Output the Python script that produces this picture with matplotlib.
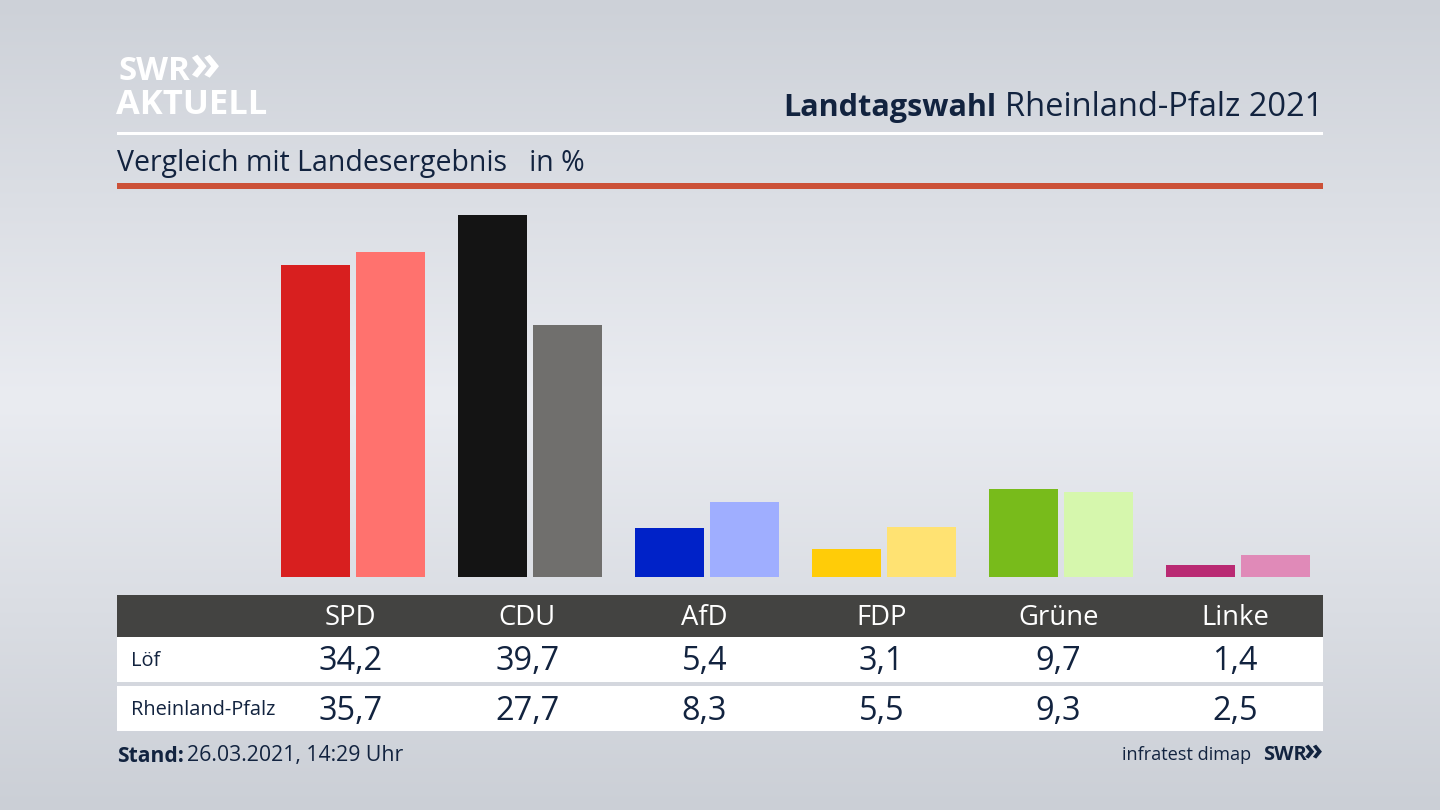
import numpy as np
import matplotlib
matplotlib.use("Agg")
import matplotlib.pyplot as plt
from matplotlib.patches import Rectangle

parties = ["SPD", "CDU", "AfD", "FDP", "Grüne", "Linke"]
loef = [34.2, 39.7, 5.4, 3.1, 9.7, 1.4]
rlp = [35.7, 27.7, 8.3, 5.5, 9.3, 2.5]
colors_loef = ["#d81f1f", "#141414", "#0022c8", "#ffcc08", "#78bb1b", "#b92a73"]
colors_rlp = ["#ff726e", "#706f6d", "#9faeff", "#ffe272", "#d6f7ad", "#e08ab8"]
row_names = ["Löf", "Rheinland-Pfalz"]
title_bold = "Landtagswahl"
title_rest = "Rheinland-Pfalz 2021"
subtitle = "Vergleich mit Landesergebnis   in %"

W, H = 1440, 810
NAVY = "#12233f"
plt.rcParams["font.family"] = ["Open Sans", "DejaVu Sans"]
fig = plt.figure(figsize=(W / 100, H / 100), dpi=100)

# background + page furniture, in pixel coordinates
bg = fig.add_axes([0, 0, 1, 1], zorder=0)
bg.set_xlim(0, W); bg.set_ylim(H, 0); bg.axis("off")
grad_stops_y = np.array([0, 400, 810])
grad_stops_v = np.array([[205, 209, 216], [234, 236, 241], [203, 207, 214]], float)
yy = np.arange(H)
img = np.stack([np.interp(yy, grad_stops_y, grad_stops_v[:, c]) for c in range(3)], axis=1)[:, None, :] / 255
bg.imshow(img, extent=(0, W, H, 0), aspect="auto", interpolation="bilinear")
bg.set_xlim(0, W); bg.set_ylim(H, 0)

def rect(x0, y0, x1, y1, c):
    bg.add_patch(Rectangle((x0, y0), x1 - x0, y1 - y0, fc=c, ec="none"))

def txt(x, y, s, size, color=NAVY, ha="left", weight="normal", **kw):
    return bg.text(x, y, s, fontsize=size * 0.72, color=color, ha=ha, va="center",
                   fontweight=weight, **kw)

rect(117, 132, 1323, 135, "white")
rect(117, 183, 1323, 189, "#cc5138")
rect(117, 595, 1323, 637, "#434341")
rect(117, 637, 1323, 682, "white")
rect(117, 686, 1323, 731, "white")

# logo
txt(118, 71, "SWR", 33, color="white", weight="bold")
txt(189, 66, "»", 50, color="white", weight="bold")
txt(116, 105, "AKTUELL", 34.5, color="white", weight="bold")

# title
t2 = txt(1323, 108, title_rest, 32.6, ha="right")
fig.canvas.draw()
bb = t2.get_window_extent()
txt(bb.x0 - 8, 108, title_bold, 30.6, ha="right", weight="bold")
txt(117, 163, subtitle, 28.5)

# bars
ax = fig.add_axes([117 / W, 1 - 577.3 / H, (1323 - 117) / W, 400 / H], zorder=1)
ax.patch.set_alpha(0)
ax.axis("off")
spacing = 176.95
ax.set_xlim((117 - 353) / spacing, (1323 - 353) / spacing)
ax.set_ylim(0, 400 / 9.12)
x = np.arange(len(parties))
bw = 69.5 / spacing
off = 37.5 / spacing
ax.bar(x - off, loef, bw, color=colors_loef)
ax.bar(x + off, rlp, bw, color=colors_rlp)

# table
fmt = lambda v: f"{v:.1f}".replace(".", ",")
for i, p in enumerate(parties):
    cx = 350.5 + spacing * i
    txt(cx, 618, p, 27.5, color="white", ha="center")
    txt(cx, 662, fmt(loef[i]), 32.5, ha="center")
    txt(cx, 711, fmt(rlp[i]), 32.5, ha="center")
txt(131, 661, row_names[0], 20)
txt(131, 710, row_names[1], 20)

# footer
st = txt(117, 756, "Stand:", 21, weight="bold")
fig.canvas.draw()
txt(st.get_window_extent().x1 + 3, 756, "26.03.2021, 14:29 Uhr", 21.3)
txt(1251, 755, "infratest dimap", 18.2, ha="right")
txt(1263, 755, "SWR", 20, weight="bold")
txt(1304, 751, "»", 31, weight="bold")

fig.savefig("out.png", dpi=100)
